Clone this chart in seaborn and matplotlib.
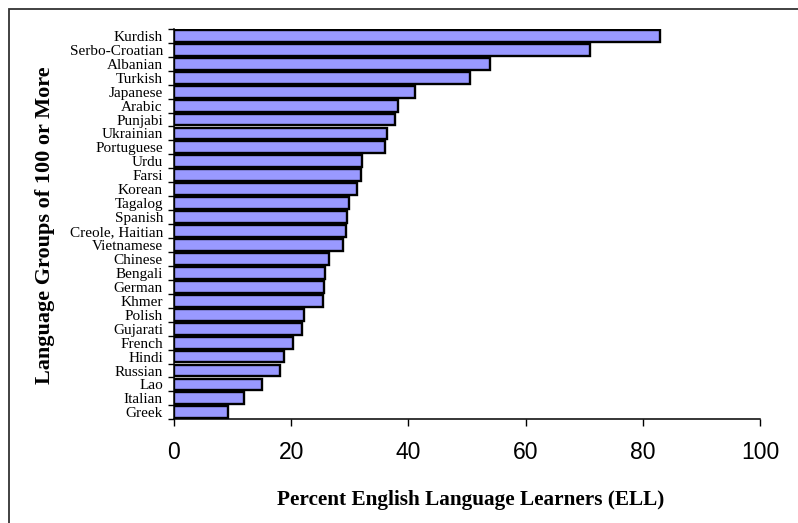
import numpy as np
import pandas as pd
import matplotlib
matplotlib.use("Agg")
import matplotlib.pyplot as plt
import seaborn as sns
from matplotlib.patches import Rectangle

languages = ["Kurdish", "Serbo-Croatian", "Albanian", "Turkish", "Japanese", "Arabic",
             "Punjabi", "Ukrainian", "Portuguese", "Urdu", "Farsi", "Korean", "Tagalog",
             "Spanish", "Creole, Haitian", "Vietnamese", "Chinese", "Bengali", "German",
             "Khmer", "Polish", "Gujarati", "French", "Hindi", "Russian", "Lao", "Italian",
             "Greek"]
pct_ell = [82.9, 71.0, 54.0, 50.5, 41.1, 38.2,
           37.7, 36.3, 36.0, 32.1, 31.9, 31.2, 29.9,
           29.6, 29.3, 28.9, 26.5, 25.8, 25.6,
           25.5, 22.1, 21.8, 20.3, 18.7, 18.1, 15.1, 11.9,
           9.3]
x_ticks = [0, 20, 40, 60, 80, 100]

df = pd.DataFrame({"Language": languages, "Pct": pct_ell})

sns.set_theme(style="white")
plt.rcParams["font.family"] = ["Liberation Serif", "DejaVu Serif"]
for k in ["text.color", "axes.labelcolor", "xtick.color", "ytick.color"]:
    plt.rcParams[k] = "black"

W, H = 798, 523
fig = plt.figure(figsize=(W / 100, H / 100), dpi=100)
left, right, top, bottom = 174, 760, 28.9, 419.3
ax = fig.add_axes([left / W, 1 - bottom / H, (right - left) / W, (bottom - top) / H])

sns.barplot(data=df, x="Pct", y="Language", orient="h", color="#9999FF",
            saturation=1, width=0.85, edgecolor="black", linewidth=1.7, ax=ax)

n = len(languages)
ax.set_xlim(0, 100)
ax.set_ylim(n - 0.5, -0.5)
ax.set_xticks(x_ticks)
ax.set_xticklabels([str(t) for t in x_ticks], family=["Liberation Sans"], fontsize=16.5)
ax.set_yticks(range(n))
ax.set_yticklabels(languages, fontsize=11, family=["Liberation Serif"])
ax.set_yticks(np.arange(-0.5, n, 1), minor=True)
ax.tick_params(axis="y", which="major", length=0, pad=8)
ax.tick_params(axis="y", which="minor", left=True, length=4, width=1, color="black", direction="out")
ax.tick_params(axis="x", which="major", bottom=True, length=4.8, width=1, color="black",
               direction="out", pad=11)

for s in ["top", "right"]:
    ax.spines[s].set_visible(False)
for s in ["left", "bottom"]:
    ax.spines[s].set_color("black")
    ax.spines[s].set_linewidth(1.1)

ax.set_xlabel("Percent English Language Learners (ELL)", fontsize=15.3, fontweight="bold",
              family=["Liberation Serif"])
ax.set_ylabel("Language Groups of 100 or More", fontsize=16, fontweight="bold",
              family=["Liberation Serif"])
ax.xaxis.label.set_va("center")
ax.xaxis.set_label_coords((470.5 - left) / (right - left), (bottom - 500) / (bottom - top))
ax.yaxis.label.set_va("center")
ax.yaxis.set_label_coords((45.5 - left) / (right - left), 0.5 - (225.5 - (top + bottom) / 2) / (bottom - top))

fig.patches.append(Rectangle((9 / W, -0.1), 1.2, 1.1 - 9 / H, transform=fig.transFigure,
                             fill=False, edgecolor="#333333", linewidth=1.3, figure=fig))

fig.savefig("out.png", dpi=100)
